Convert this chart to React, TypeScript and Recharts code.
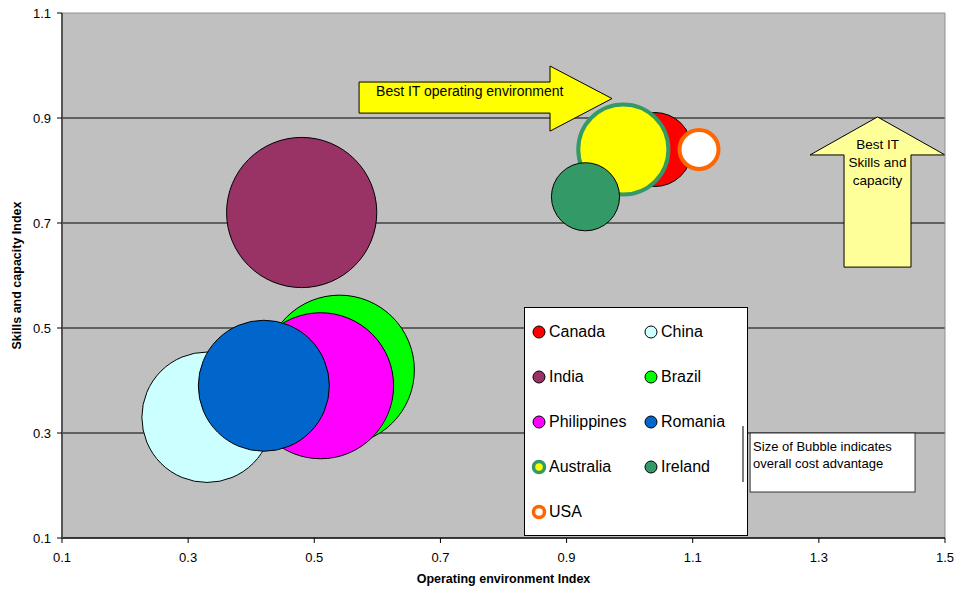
import React from "react"
import {
  ScatterChart,
  Scatter,
  XAxis,
  YAxis,
  ZAxis,
  CartesianGrid,
  Legend,
  ReferenceArea,
  ReferenceLine,
} from "recharts"

const countries = ["Canada", "China", "India", "Brazil", "Philippines", "Romania", "Australia", "Ireland", "USA"]
const envIndex = [1.04, 0.33, 0.48, 0.54, 0.51, 0.42, 0.99, 0.93, 1.11]
const skillsIndex = [0.84, 0.33, 0.72, 0.42, 0.39, 0.39, 0.84, 0.75, 0.84]
const costAdvantage = [13.7, 42.5, 56.4, 56, 53.3, 42.9, 20.3, 11.6, 3.8]
const fills = ["#ff0000", "#ccffff", "#993366", "#00ff00", "#ff00ff", "#0066cc", "#ffff00", "#339966", "#ffffff"]
const strokes = ["#000", "#000", "#000", "#000", "#000", "#000", "#339966", "#000", "#ff6600"]
const strokeWidths = [1, 1, 1, 1, 1, 1, 4, 1, 4]

const xTicks = [0.1, 0.3, 0.5, 0.7, 0.9, 1.1, 1.3, 1.5]
const yTicks = [0.1, 0.3, 0.5, 0.7, 0.9, 1.1]
const gridValues = [0.3, 0.5, 0.7, 0.9]

const FONT = "'Liberation Sans', Arial, sans-serif"

const series = countries.map((name, i) => ({
  name,
  fill: fills[i],
  stroke: strokes[i],
  strokeWidth: strokeWidths[i],
  data: [{ x: envIndex[i], y: skillsIndex[i], z: costAdvantage[i] }],
}))

function LegendMarker({ fill, stroke, strokeWidth }: { fill: string; stroke: string; strokeWidth: number }) {
  const thick = strokeWidth > 1
  return (
    <svg width={16} height={16} style={{ display: "block" }}>
      <circle cx={8} cy={8} r={thick ? 5.5 : 6} fill={fill} stroke={stroke} strokeWidth={thick ? 3.5 : 1} />
    </svg>
  )
}

function LegendBox() {
  return (
    <div
      style={{
        position: "relative",
        width: 222,
        height: 226,
        background: "#fff",
        border: "1px solid #000",
        fontFamily: FONT,
        fontSize: 16,
        color: "#000",
        display: "grid",
        gridTemplateColumns: "112px 110px",
        gridAutoRows: "45px",
        paddingTop: 1,
        boxSizing: "content-box",
      }}
    >
      {series.map((s) => (
        <div key={s.name} style={{ display: "flex", alignItems: "center", paddingLeft: 6 }}>
          <LegendMarker fill={s.fill} stroke={s.stroke} strokeWidth={s.strokeWidth} />
          <span style={{ marginLeft: 2 }}>{s.name}</span>
        </div>
      ))}
      {/* stray connector line of the note box, sits on top of the legend */}
      <div style={{ position: "absolute", left: 217, top: 118, width: 2, height: 56, background: "#808080" }} />
    </div>
  )
}

function RightArrow(props: any) {
  const { x, y, width, height } = props
  const bx = x + width * 0.755
  const sTop = y + height * 0.246
  const sBot = y + height * 0.723
  const pts = [
    [x, sTop],
    [bx, sTop],
    [bx, y],
    [x + width, y + height / 2],
    [bx, y + height],
    [bx, sBot],
    [x, sBot],
  ]
  return (
    <g>
      <polygon points={pts.map((p) => p.join(",")).join(" ")} fill="#ffff00" stroke="#000" strokeWidth={1} />
      <text x={x + 17} y={y + 30} fontFamily={FONT} fontSize={14} fill="#000">
        Best IT operating environment
      </text>
    </g>
  )
}

function UpArrow(props: any) {
  const { x, y, width, height } = props
  const by = y + height * 0.253
  const sL = x + width * 0.252
  const sR = x + width * 0.748
  const cx = x + width / 2
  const pts = [
    [cx, y],
    [x + width, by],
    [sR, by],
    [sR, y + height],
    [sL, y + height],
    [sL, by],
    [x, by],
  ]
  return (
    <g>
      <polygon points={pts.map((p) => p.join(",")).join(" ")} fill="#ffff99" stroke="#000" strokeWidth={1} />
      <text x={cx} y={y + 32} textAnchor="middle" fontFamily={FONT} fontSize={13.5} fill="#000">
        <tspan x={cx}>Best IT</tspan>
        <tspan x={cx} dy={18}>Skills and</tspan>
        <tspan x={cx} dy={18}>capacity</tspan>
      </text>
    </g>
  )
}

function NoteBox(props: any) {
  const { x, y, width, height } = props
  return (
    <g>
      <rect x={x} y={y} width={width} height={height} fill="#fff" stroke="#333" strokeWidth={1} />
      <text x={x + 3} y={y + 18} fontFamily={FONT} fontSize={13} fill="#000">
        <tspan x={x + 3}>Size of Bubble indicates</tspan>
        <tspan x={x + 3} dy={17}>overall cost advantage</tspan>
      </text>
    </g>
  )
}

export default function App() {
  return (
    <div style={{ position: "absolute", left: 0, top: 0, width: 956, height: 592, background: "#fff" }}>
      <ScatterChart width={956} height={592} margin={{ top: 13, right: 11, bottom: 0, left: 0 }}>
        <CartesianGrid fill="#c0c0c0" stroke="#000" strokeOpacity={1} vertical={false} horizontalValues={gridValues} />
        <XAxis
          type="number"
          dataKey="x"
          domain={[0.1, 1.5]}
          ticks={xTicks}
          interval={0}
          height={54}
          tickSize={5}
          tickMargin={10}
          tick={{ fill: "#000", fontSize: 13, fontFamily: FONT }}
          axisLine={{ stroke: "#000", strokeWidth: 1.5 }}
          tickLine={{ stroke: "#000" }}
          allowDataOverflow
          label={{
            value: "Operating environment Index",
            position: "center",
            dy: 14,
            style: { fontWeight: "bold", fontSize: 12.5, fontFamily: FONT, fill: "#000" },
          }}
        />
        <YAxis
          type="number"
          dataKey="y"
          domain={[0.1, 1.1]}
          ticks={yTicks}
          interval={0}
          width={62}
          tickSize={5}
          tickMargin={6}
          tick={{ fill: "#000", fontSize: 13, fontFamily: FONT }}
          axisLine={{ stroke: "#555", strokeWidth: 2 }}
          tickLine={{ stroke: "#000" }}
          allowDataOverflow
          label={{
            value: "Skills and capacity Index",
            angle: -90,
            position: "center",
            dx: -14,
            style: { fontWeight: "bold", fontSize: 12.5, fontFamily: FONT, fill: "#000", textAnchor: "middle" },
          }}
        />
        <ZAxis type="number" dataKey="z" domain={[0, 100]} range={[0, 31415.9]} />
        <ReferenceLine y={1.1} stroke="#909090" />
        <ReferenceLine x={1.5} stroke="#909090" />
        <ReferenceArea x1={0.571} x2={0.972} y1={0.875} y2={0.999} shape={RightArrow} ifOverflow="visible" />
        <ReferenceArea x1={1.286} x2={1.5} y1={0.616} y2={0.902} shape={UpArrow} ifOverflow="visible" />
        <ReferenceArea x1={1.191} x2={1.4525} y1={0.1876} y2={0.3} shape={NoteBox} ifOverflow="visible" />
        {series.map((s) => (
          <Scatter
            key={s.name}
            name={s.name}
            data={s.data}
            fill={s.fill}
            stroke={s.stroke}
            strokeWidth={s.strokeWidth}
            isAnimationActive={false}
          />
        ))}
        <Legend
          layout="vertical"
          align="center"
          verticalAlign="middle"
          content={() => <LegendBox />}
          wrapperStyle={{ position: "absolute", left: 524, top: 307, width: 224, height: 228 }}
        />
      </ScatterChart>
    </div>
  )
}
